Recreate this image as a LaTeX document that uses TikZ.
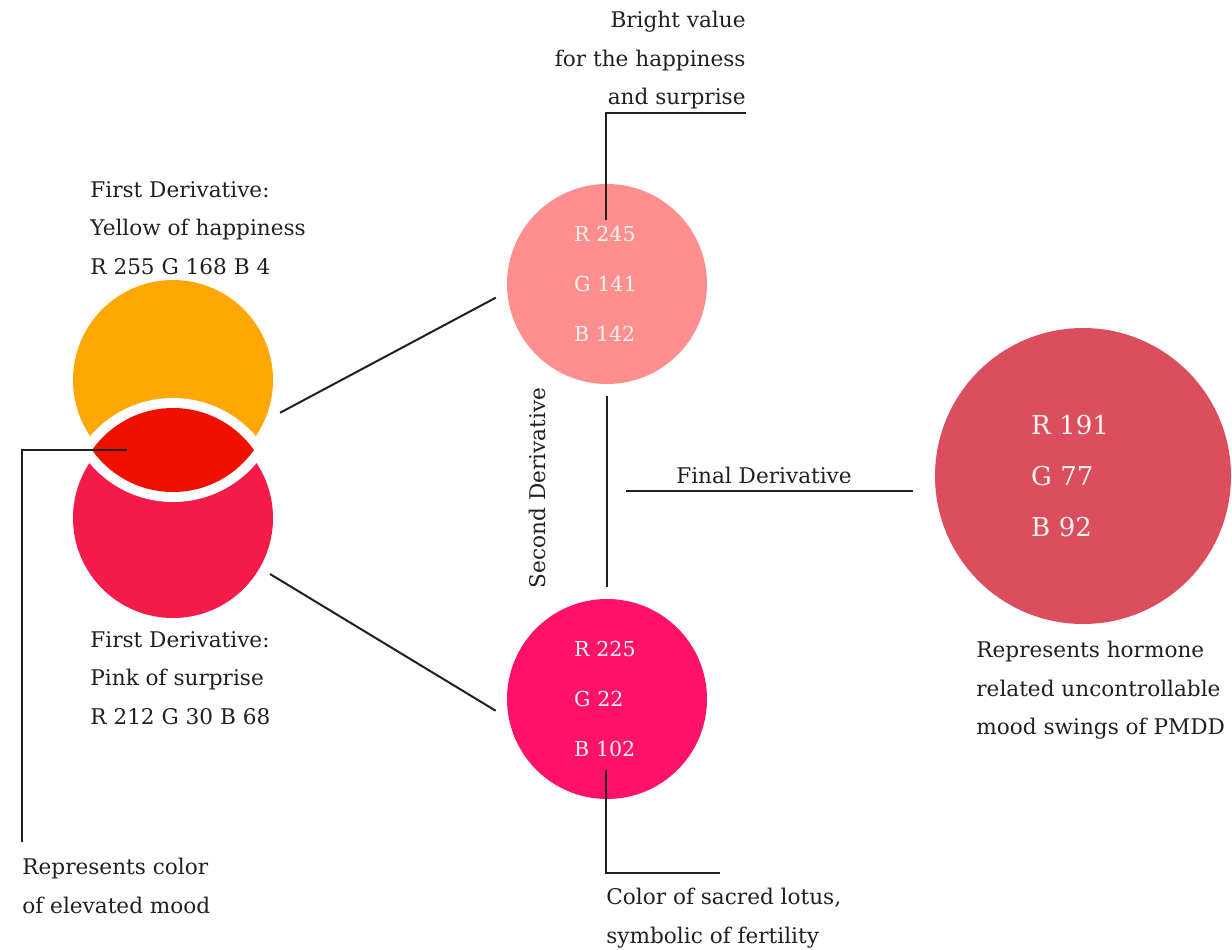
\documentclass[tikz,border=0pt]{standalone}
\usepackage{fontspec}
\setmainfont{DejaVu Serif}
\usepackage{tikz}
\usetikzlibrary{positioning}

\definecolor{yellowc}{HTML}{FFA804}
\definecolor{pinkc}{HTML}{F41B4B}
\definecolor{lensred}{HTML}{EE1100}
\definecolor{lightpink}{HTML}{FF8E8F}
\definecolor{hotpink}{HTML}{FF1268}
\definecolor{finalred}{HTML}{DC4D5E}
\definecolor{numwhite}{HTML}{FFF3F0}
\definecolor{ink}{HTML}{231F20}

\begin{document}
\begin{tikzpicture}[x=0.5pt, y=-0.5pt,
    disc/.style={circle, minimum size=100pt, inner sep=0pt, outer sep=6pt,
      text=numwhite, align=left, text width=33pt, font=\fontsize{10.3}{25}\selectfont},
    note/.style={inner sep=0pt, text=ink, font=\fontsize{10.8}{19.25}\selectfont},
    link/.style={draw=ink, line width=1pt}]

    \useasboundingbox (0,0) rectangle (1232,949);

    % First derivatives
    \node[disc, fill=yellowc] (yellow) at (173,380) {};
    \node[disc, fill=pinkc] (pink) at (173,518) {};

    % Overlap of the two
    \begin{scope}
      \clip (173,393) circle[radius=54.5pt];
      \fill[white] (173,507) circle[radius=54.5pt];
    \end{scope}
    \begin{scope}
      \clip (173,393) circle[radius=49.5pt];
      \fill[lensred] (173,507) circle[radius=49.5pt];
    \end{scope}

    % Second and final derivatives
    \node[disc, fill=lightpink] (second) at (607,284)
      {R 245\\ G 141\\ B 142};
    \node[disc, fill=hotpink] (lotus) at (607,699)
      {R 225\\ G 22\\ B 102};
    \node[disc, fill=finalred, minimum size=148pt, text width=52pt,
      font=\fontsize{13}{25.5}\selectfont] (final) at (1083,476)
      {R 191\\ G 77\\ B 92};

    % Labels
    \node[note, anchor=north west, align=left] (yellowlbl) at (90,181)
      {First Derivative:\\ Yellow of happiness\\ R 255 G 168 B 4};
    \node[note, anchor=north west, align=left] (pinklbl) at (90,631)
      {First Derivative:\\ Pink of surprise\\ R 212 G 30 B 68};
    \node[note, anchor=north east, align=right] (bright) at (746,11)
      {Bright value\\ for the happiness\\ and surprise};
    \node[note, anchor=north west, align=left] (elevated) at (22,858)
      {Represents color\\ of elevated mood};
    \node[note, anchor=north west, align=left] (lotuslbl) at (606,888)
      {Color of sacred lotus,\\ symbolic of fertility};
    \node[note, anchor=north west, align=left] (pmdd) at (976,641)
      {Represents hormone\\ related uncontrollable\\ mood swings of PMDD};
    \node[note, rotate=90] (secondlbl) at (537,488) {Second Derivative};
    \node[note, anchor=base] (finallbl) at (764,483) {Final Derivative};

    % Connectors
    \coordinate (lenstip) at (127,450);
    \coordinate (brightfoot) at (606,220);
    \coordinate (lotusfoot) at (606,770);
    \coordinate (lotusend) at (720,873);
    \coordinate (fdstart) at (626,491);

    \draw[link] (yellow.343) -- (second.187.6);
    \draw[link] (pink.330) -- (lotus.186);
    \draw[link] (second.south) -- (lotus.north);
    \draw[link, shorten >=5pt] (fdstart) -- (fdstart -| final.west);
    \draw[link] (brightfoot) |- ([yshift=-1.4pt]bright.south east);
    \draw[link] (lotusfoot) |- (lotusend);
    \draw[link] (lenstip) -| ([yshift=8pt]elevated.north west);
\end{tikzpicture}
\end{document}
